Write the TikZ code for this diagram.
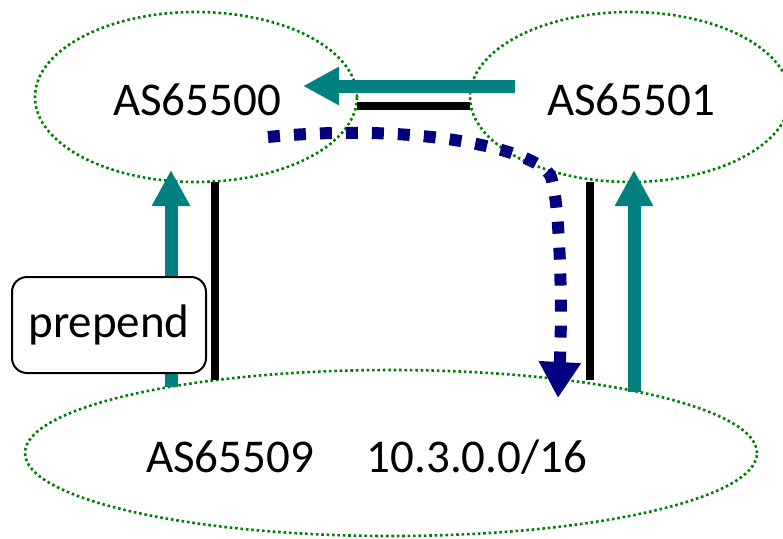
\documentclass[tikz,border=0pt]{standalone}
\usepackage{fontspec}
\setmainfont{Carlito}
\usetikzlibrary{arrows.meta,shapes.geometric}
\definecolor{asgreen}{RGB}{0,128,0}
\definecolor{tealc}{RGB}{0,128,128}
\definecolor{navyc}{RGB}{0,0,128}
\begin{document}
\begin{tikzpicture}[x=1pt,y=-1pt,
  asell/.style={ellipse, draw=asgreen, line width=2.6pt, dash pattern=on 2.6pt off 2.8pt, inner sep=0pt},
  lbl/.style={font=\fontsize{47}{56}\selectfont, anchor=base, inner sep=0pt},
  tealarrow/.style={draw=tealc, line width=13pt, -{Triangle[length=36pt,width=36pt]}},
  blackline/.style={draw=black, line width=8pt},
  bgppath/.style={draw=navyc, line width=12pt, dash pattern=on 12pt off 14pt, -{Triangle[length=36pt,width=40pt]}}
]
\useasboundingbox (0,0) rectangle (783,538);
% ellipses
\node[asell, minimum width=322pt, minimum height=170pt] (A) at (196,97) {};
\node[asell, minimum width=320pt, minimum height=170pt] (B) at (630,97) {};
\node[asell, minimum width=732pt, minimum height=166pt] (C) at (391,453) {};
% labels
\node[lbl] (tA) at (197,115) {AS65500};
\node[lbl] (tB) at (631,115) {AS65501};
\node[lbl] (tC) at (230,472) {AS65509};
\node[lbl] (tP) at (477,472) {10.3.0.0/16};
% coordinates
\coordinate (t1) at (515,86);
\coordinate (t2) at (303,86);
\coordinate (l1) at (171,387);
\coordinate (l2) at (171,170);
\coordinate (r1) at (634,392);
\coordinate (r2) at (634,170);
\coordinate (k1) at (357,106);
\coordinate (k2) at (470,106);
\coordinate (kl1) at (215,182);
\coordinate (kl2) at (215,380);
\coordinate (kr1) at (590,182);
\coordinate (kr2) at (590,380);
\coordinate (b1) at (268,137);
\coordinate (bm) at (550,175);
\coordinate (b2) at (558,398);
% connectors
\draw[tealarrow] (t1) -- (t2);
\draw[blackline] (k1) -- (k2);
\draw[blackline] (kl1) -- (kl2);
\draw[blackline] (kr1) -- (kr2);
\draw[tealarrow] (l1) -- (l2);
\draw[tealarrow] (r1) -- (r2);
\draw[bgppath] (b1) .. controls (420,122) and (535,150) .. (bm) .. controls (559,190) and (563,300) .. (b2);
% prepend box
\node[draw=black, line width=2pt, rounded corners=15pt, fill=white, minimum width=194pt, minimum height=96pt, inner sep=0pt, font=\fontsize{47}{56}\selectfont] (pp) at (109,325) {prepend};
\end{tikzpicture}
\end{document}
